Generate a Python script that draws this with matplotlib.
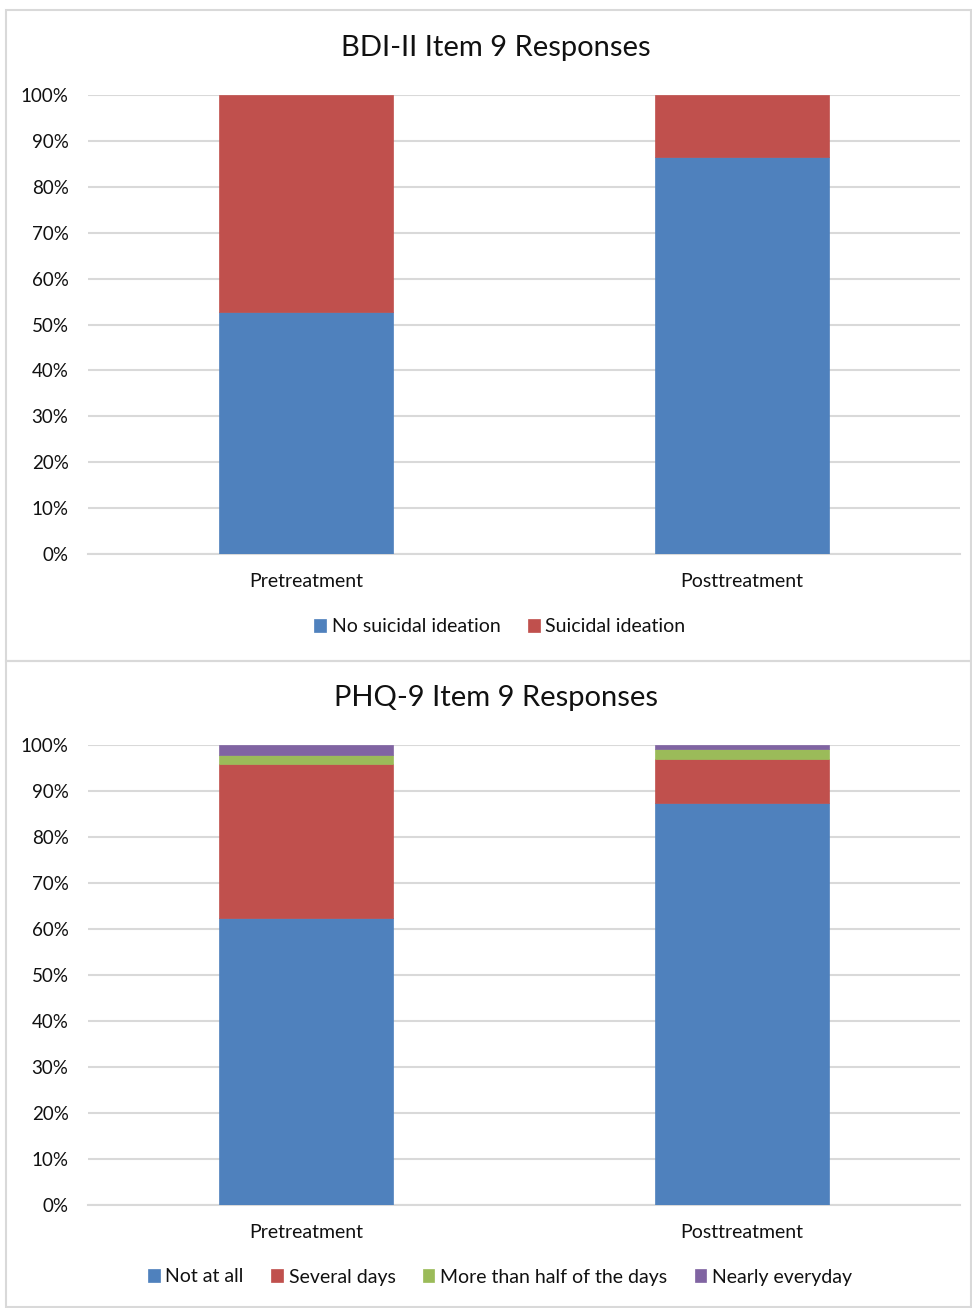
import matplotlib.pyplot as plt
from matplotlib.patches import Rectangle

plt.rcParams['font.family'] = ['Lato', 'DejaVu Sans']

# response shares (%) per time point
timepoints = ["Pretreatment", "Posttreatment"]

bdi_labels = ["No suicidal ideation", "Suicidal ideation"]
bdi_no_si = [52.7, 86.4]
bdi_si = [47.3, 13.6]

phq_labels = ["Not at all", "Several days", "More than half of the days", "Nearly everyday"]
phq_not_at_all = [62.4, 87.3]
phq_several = [33.4, 9.7]
phq_more_half = [2.0, 2.1]
phq_nearly = [2.2, 0.9]

colors = ["#4f81bd", "#c0504d", "#9bbb59", "#8064a2"]
grid_color = "#d9d9d9"
text_color = "#111111"

W, H = 972, 1308
fig = plt.figure(figsize=(W / 100, H / 100), dpi=100)


def px_axes(x0, y0, x1, y1):
    return fig.add_axes([x0 / W, 1 - y1 / H, (x1 - x0) / W, (y1 - y0) / H])


def stacked(ax, series, labels):
    x = range(len(timepoints))
    bottom = [0] * len(timepoints)
    handles = []
    for vals, lab, col in zip(series, labels, colors):
        b = ax.bar(x, vals, width=0.4, bottom=bottom, color=col, label=lab,
                   edgecolor=col, linewidth=0.5, zorder=3)
        handles.append(b)
        bottom = [p + v for p, v in zip(bottom, vals)]
    ax.set_xlim(-0.5, 1.5)
    ax.set_ylim(0, 100)
    ax.set_yticks(range(0, 101, 10))
    ax.set_yticklabels([f"{t}%" for t in range(0, 101, 10)])
    ax.set_xticks(list(x))
    ax.set_xticklabels(timepoints)
    ax.yaxis.grid(True, color=grid_color, linewidth=1.5, zorder=0)
    ax.set_axisbelow(True)
    for s in ["top", "right", "left"]:
        ax.spines[s].set_visible(False)
    ax.spines["bottom"].set_color(grid_color)
    ax.spines["bottom"].set_linewidth(1.5)
    ax.tick_params(axis="y", length=0, pad=14, labelsize=13.5, colors=text_color)
    ax.tick_params(axis="x", length=0, pad=14, labelsize=14, colors=text_color)
    return handles


# panel frames
for (y0, y1) in [(10, 661), (661, 1307)]:
    fig.patches.append(Rectangle((6 / W, 1 - y1 / H), (971 - 6) / W, (y1 - y0) / H,
                                 transform=fig.transFigure, fill=False,
                                 edgecolor="#d9d9d9", linewidth=1.5))

legend_kw = dict(loc="center", frameon=False, fontsize=14, handlelength=0.6,
                 handleheight=0.6, handletextpad=0.3, columnspacing=1.4,
                 labelcolor=text_color)

ax1 = px_axes(88, 95, 960, 554)
h1 = stacked(ax1, [bdi_no_si, bdi_si], bdi_labels)
fig.text(496 / W, 1 - 48 / H, "BDI-II Item 9 Responses", ha="center", va="center",
         fontsize=21, color=text_color)
fig.legend(h1, bdi_labels, bbox_to_anchor=(500 / W, 1 - 627 / H), ncol=2, **legend_kw)

ax2 = px_axes(88, 745, 960, 1205)
h2 = stacked(ax2, [phq_not_at_all, phq_several, phq_more_half, phq_nearly], phq_labels)
fig.text(496 / W, 1 - 698 / H, "PHQ-9 Item 9 Responses", ha="center", va="center",
         fontsize=21, color=text_color)
fig.legend(h2, phq_labels, bbox_to_anchor=(500 / W, 1 - 1277 / H), ncol=4, **legend_kw)

fig.savefig("out.png", dpi=100)
